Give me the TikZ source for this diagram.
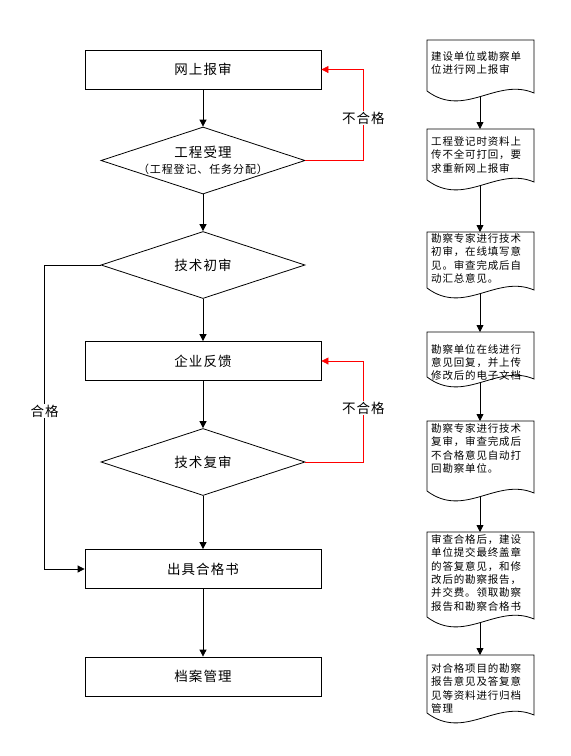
\documentclass[tikz,border=0pt]{standalone}
\usepackage{fontspec}
\newfontfamily\cjk[LetterSpace=8]{Noto Sans CJK SC}
\usepackage{tikz}
\usetikzlibrary{shapes.geometric,arrows.meta}

% document shape: name, top, lower left corner
\newcommand\docshape[3]{%
  \draw[docline] (427,#3) -- (427,#2) -- (534,#2) -- (534,#3+2)
    .. controls (496.5,#3-14) and (464.5,#3+28) .. cycle;
  \coordinate (#1-t) at (480,#2);
  \coordinate (#1-b) at (480,#3+5.5);
}

\begin{document}
\begin{tikzpicture}[x=1pt,y=-1pt,
  font=\cjk\fontsize{13.5}{16.6}\selectfont,
  box/.style={draw,line width=0.8pt,minimum width=236pt,minimum height=39pt},
  decision/.style={draw,diamond,line width=0.8pt,minimum width=204pt,minimum height=67pt,inner sep=0pt},
  every label/.style={font=\cjk\fontsize{13.5}{16.6}\selectfont,align=center},
  arr/.style={-{Triangle[length=7pt,width=7pt]},line width=0.8pt},
  fail/.style={arr,red,line width=0.7pt},
  tag/.style={fill=white,inner sep=1pt},
  docline/.style={line width=0.8pt},
  doctext/.style={anchor=north west,align=left,inner sep=0pt,font=\cjk\fontsize{10.5}{13.3}\selectfont}]
\useasboundingbox (0,0) rectangle (571,756);

% main flow
\node[box] (report) at (203,69.5) {网上报审};
\node[decision,label={center:{工程受理\\{\fontsize{11}{13}\selectfont （工程登记、任务分配）}}}] (accept) at (203,160.5) {};
\node[decision,label=center:技术初审] (prelim) at (203,265) {};
\node[box] (feedback) at (203,361) {企业反馈};
\node[decision,label=center:技术复审] (recheck) at (203,462) {};
\node[box] (cert) at (203,569) {出具合格书};
\node[box] (archive) at (203,676.5) {档案管理};

\draw[arr] (report) -- (accept);
\draw[arr] (accept) -- (prelim);
\draw[arr] (prelim) -- (feedback);
\draw[arr] (feedback) -- (recheck);
\draw[arr] (recheck) -- (cert);
\draw[arr] (cert) -- (archive);

\draw[fail] (accept.east) -- ++(58,0) |- node[tag,pos=0.233,text=black] {不合格} (report.east);
\draw[fail] (recheck.east) -- ++(58,0) |- node[tag,pos=0.267,text=black] {不合格} (feedback.east);
\draw[arr] (prelim.west) -- ++(-56,0) |- node[tag,pos=0.24] {合格} (cert.west);

% notes
\docshape{d1}{40}{91}
\node[doctext] (t1) at (431,51.5) {建设单位或勘察单\\位进行网上报审};
\docshape{d2}{129}{180}
\node[doctext] (t2) at (431,136.5) {工程登记时资料上\\传不全可打回，要\\求重新网上报审};
\docshape{d3}{232}{288}
\node[doctext] (t3) at (431,233.5) {勘察专家进行技术\\初审，在线填写意\\见。审查完成后自\\动汇总意见。};
\docshape{d4}{332}{377}
\node[doctext] (t4) at (431,344) {勘察单位在线进行\\意见回复，并上传\\修改后的电子文档};
\docshape{d5}{421}{491}
\node[doctext] (t5) at (431,423.5) {勘察专家进行技术\\复审，审查完成后\\不合格意见自动打\\回勘察单位。};
\docshape{d6}{532}{617}
\node[doctext] (t6) at (431,534.5) {审查合格后，建设\\单位提交最终盖章\\的答复意见，和修\\改后的勘察报告，\\并交费。领取勘察\\报告和勘察合格书};
\docshape{d7}{655}{713}
\node[doctext] (t7) at (431,663.5) {对合格项目的勘察\\报告意见及答复意\\见等资料进行归档\\管理};

\draw[arr] (d1-b) -- (d2-t);
\draw[arr] (d2-b) -- (d3-t);
\draw[arr] (d3-b) -- (d4-t);
\draw[arr] (d4-b) -- (d5-t);
\draw[arr] (d5-b) -- (d6-t);
\draw[arr] (d6-b) -- (d7-t);
\end{tikzpicture}
\end{document}
